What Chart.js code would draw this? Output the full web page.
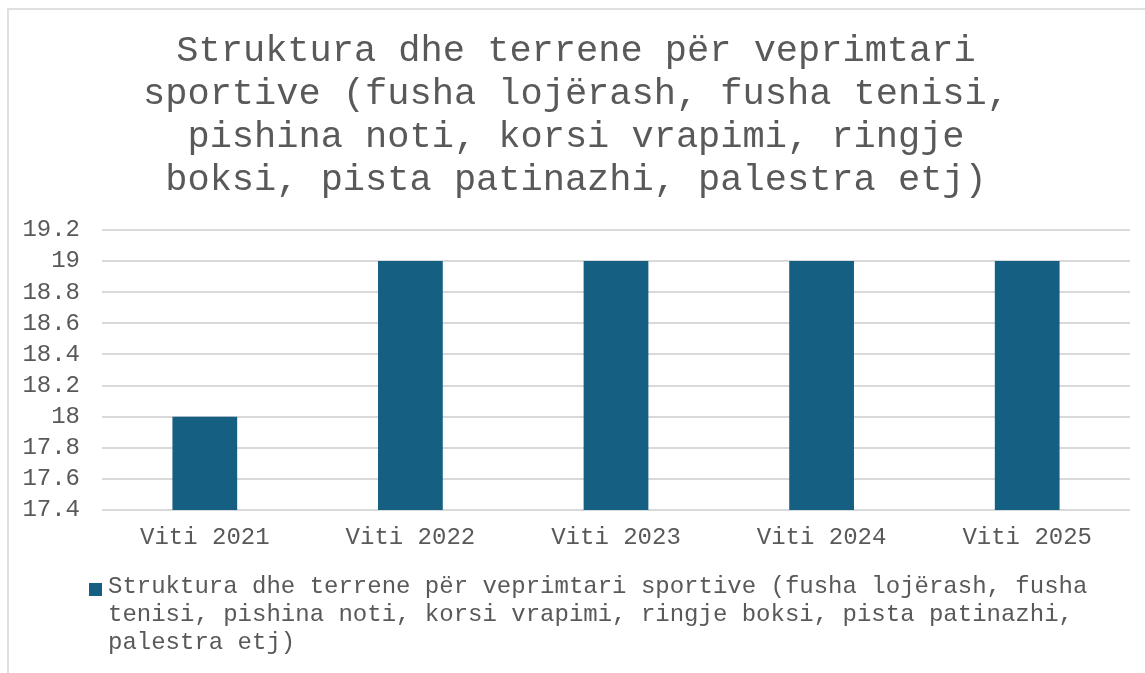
<!DOCTYPE html>
<html>
<head>
<meta charset="utf-8">
<script src="https://cdn.jsdelivr.net/npm/chart.js@4/dist/chart.umd.min.js"></script>
<style>
    html, body {
        margin: 0;
        padding: 0;
        background: #ffffff;
        overflow: hidden;
    }
    #wrap {
        position: relative;
        width: 1145px;
        height: 673px;
    }
    #frame {
        position: absolute;
        left: 7px;
        top: 8px;
        width: 1200px;
        height: 700px;
        border: 2px solid #e0e0e0;
        box-sizing: border-box;
    }
    #chart {
        position: absolute;
        left: 0;
        top: 0;
    }
    #legend {
        position: absolute;
        left: 89px;
        top: 573px;
        width: 1045px;
        font-family: 'Courier New', 'Nimbus Mono PS', 'FreeMono', 'Liberation Mono', monospace;
        font-size: 24px;
        line-height: 28px;
        color: #595959;
    }
    #legend .box {
        position: absolute;
        left: 0;
        top: 10px;
        width: 13px;
        height: 13px;
    }
    #legend .text {
        margin-left: 19px;
    }
</style>
</head>
<body>
<div id="wrap">
    <div id="frame"></div>
    <canvas id="chart" width="1145" height="673"></canvas>
    <div id="legend"></div>
</div>
<script>
const titleLines = [
    'Struktura dhe terrene për veprimtari',
    'sportive (fusha lojërash, fusha tenisi,',
    'pishina noti, korsi vrapimi, ringje',
    'boksi, pista patinazhi, palestra etj)'
];
const categories = ['Viti 2021', 'Viti 2022', 'Viti 2023', 'Viti 2024', 'Viti 2025'];
const seriesName = 'Struktura dhe terrene për veprimtari sportive (fusha lojërash, fusha tenisi, pishina noti, korsi vrapimi, ringje boksi, pista patinazhi, palestra etj)';
const seriesValues = [18, 19, 19, 19, 19];
const yMin = 17.4;
const yMax = 19.2;
const yStep = 0.2;

const fontFamily = "'Courier New', 'Nimbus Mono PS', 'FreeMono', 'Liberation Mono', monospace";
const textColor = '#595959';
const barColor = '#156082';

const ctx = document.getElementById('chart').getContext('2d');
const chart = new Chart(ctx, {
    type: 'bar',
    data: {
        labels: categories,
        datasets: [
            {
                label: seriesName,
                data: seriesValues,
                backgroundColor: barColor,
                borderWidth: 0,
                categoryPercentage: 1,
                barPercentage: 0.315
            }
        ]
    },
    options: {
        responsive: false,
        animation: false,
        layout: {
            padding: { left: 22, right: 15, top: 30, bottom: 100 }
        },
        scales: {
            x: {
                grid: { display: false, drawTicks: false },
                border: { display: false },
                ticks: {
                    color: textColor,
                    padding: 13,
                    font: { family: fontFamily, size: 24 }
                },
                afterFit: scale => {
                    scale.height = 63;
                }
            },
            y: {
                min: yMin,
                max: yMax,
                grid: { color: '#d9d9d9', lineWidth: 2, drawTicks: false },
                border: { display: false },
                ticks: {
                    stepSize: yStep,
                    autoSkip: false,
                    color: textColor,
                    padding: 22,
                    font: { family: fontFamily, size: 24 },
                    callback: value => String(Number(value.toFixed(1)))
                },
                afterFit: scale => {
                    scale.width = 80;
                }
            }
        },
        plugins: {
            legend: { display: false },
            tooltip: { enabled: false },
            title: {
                display: true,
                text: titleLines,
                color: textColor,
                font: { family: fontFamily, size: 37, weight: 'normal', lineHeight: 1.162 },
                padding: { top: 0, bottom: 28 }
            }
        }
    }
});

// legend as html so the long series name wraps like the original
const legendEl = document.getElementById('legend');
chart.data.datasets.forEach(ds => {
    const box = document.createElement('span');
    box.className = 'box';
    box.style.background = ds.backgroundColor;
    const text = document.createElement('div');
    text.className = 'text';
    text.textContent = ds.label;
    legendEl.appendChild(box);
    legendEl.appendChild(text);
});
</script>
</body>
</html>
